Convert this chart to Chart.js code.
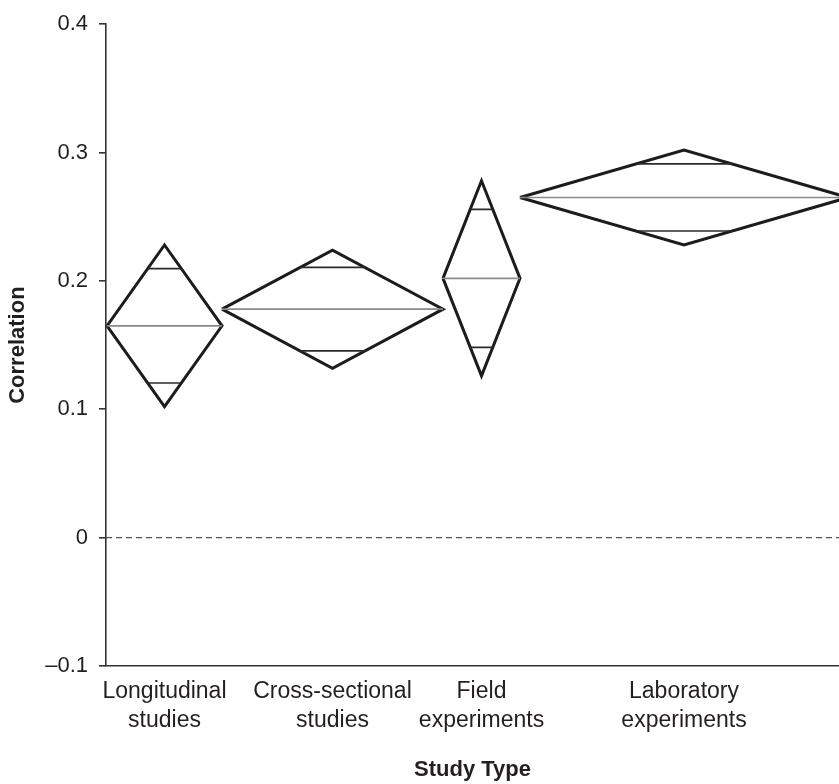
<!DOCTYPE html>
<html><head><meta charset="utf-8">
<script src="https://cdn.jsdelivr.net/npm/chart.js@4.4.1/dist/chart.umd.min.js"></script>
<style>html,body{margin:0;padding:0;background:#fff;} canvas{display:block;}</style>
</head><body>
<canvas id="c" width="839" height="784"></canvas>
<script>
// ---- data ----
const categories = [["Longitudinal","studies"],["Cross-sectional","studies"],["Field","experiments"],["Laboratory","experiments"]];
const sampleWeights = [115, 221, 77, 328];          // relative sample size (diamond width)
const means   = [0.165, 0.178, 0.202, 0.265];
const ciLower = [0.102, 0.132, 0.126, 0.228];
const ciUpper = [0.228, 0.224, 0.278, 0.302];
const yTickValues = [-0.1, 0, 0.1, 0.2, 0.3, 0.4];
const xAxisRange = [-1, 732];
const referenceValue = 0;

// ---- build datasets ----
const INK = '#1d1b1c';
const datasets = [];
const centers = [];
let start = 0;
sampleWeights.forEach((w, i) => {
  const left = start, right = start + w, c = (left + right) / 2, hw = w / 2;
  start = right;
  centers.push(c);
  const m = means[i], lo = ciLower[i], hi = ciUpper[i];
  // mean line
  datasets.push({data:[{x:left,y:m},{x:right,y:m}], borderColor:'#8a8a8a', borderWidth:1.6});
  // overlap marks
  const k = 1 - 1/Math.SQRT2;
  const dU = (hi - m)/Math.SQRT2, dL = (m - lo)/Math.SQRT2;
  datasets.push({data:[{x:c-hw*k,y:m+dU},{x:c+hw*k,y:m+dU}], borderColor:'#2a2a2a', borderWidth:1.6});
  datasets.push({data:[{x:c-hw*k,y:m-dL},{x:c+hw*k,y:m-dL}], borderColor:'#2a2a2a', borderWidth:1.6});
  // diamond
  datasets.push({data:[{x:left,y:m},{x:c,y:hi},{x:right,y:m},{x:c,y:lo},{x:left,y:m}],
    borderColor:INK, borderWidth:3, borderJoinStyle:'miter'});
});
datasets.push({data:[{x:xAxisRange[0],y:referenceValue},{x:xAxisRange[1],y:referenceValue}],
  borderColor:'#555', borderWidth:1.4, borderDash:[6,4]});
datasets.forEach(d => { d.showLine = true; d.pointRadius = 0; d.pointHoverRadius = 0; d.fill = false; });

function fmtY(v){
  if (Math.abs(v) < 1e-9) return '0';
  return (v < 0 ? '\u2013' : '') + Math.abs(v).toFixed(1);
}

Chart.defaults.font.family = '"Liberation Sans", Arial, Helvetica, sans-serif';
Chart.defaults.color = '#231f20';

new Chart(document.getElementById('c'), {
  type: 'scatter',
  data: { datasets },
  options: {
    responsive: false,
    animation: false,
    devicePixelRatio: 1,
    layout: { padding: { top: 16, left: 0, right: 0, bottom: 0 } },
    plugins: { legend: { display: false }, tooltip: { enabled: false } },
    scales: {
      x: {
        type: 'linear', position: 'bottom',
        min: xAxisRange[0], max: xAxisRange[1],
        afterBuildTicks: s => { s.ticks = centers.map(v => ({ value: v })); },
        afterFit: s => { s.height = 118; },
        grid: { display: false, drawTicks: false },
        border: { display: true, color: '#333', width: 1.6 },
        ticks: { autoSkip: false, maxRotation: 0, padding: 11,
          font: { size: 23, lineHeight: 1.27 }, color: '#231f20',
          callback: (v, i) => categories[i] },
        title: { display: true, text: 'Study Type', color: '#231f20',
          font: { size: 22, weight: 'bold', lineHeight: 1.2 }, padding: { top: 0, bottom: 1 } }
      },
      y: {
        type: 'linear',
        min: yTickValues[0], max: yTickValues[yTickValues.length - 1],
        afterBuildTicks: s => { s.ticks = yTickValues.map(v => ({ value: v })); },
        afterFit: s => { s.width = 106; },
        grid: { drawOnChartArea: false, drawTicks: true, tickLength: 7, color: '#333', lineWidth: 1.6 },
        border: { display: true, color: '#333', width: 1.6 },
        ticks: { padding: 11, font: { size: 22 }, color: '#231f20', callback: v => fmtY(v) },
        title: { display: true, text: 'Correlation', color: '#231f20',
          font: { size: 22, weight: 'bold', lineHeight: 1.2 }, padding: { top: 5, bottom: 0 } }
      }
    }
  }
});
</script>
</body></html>
